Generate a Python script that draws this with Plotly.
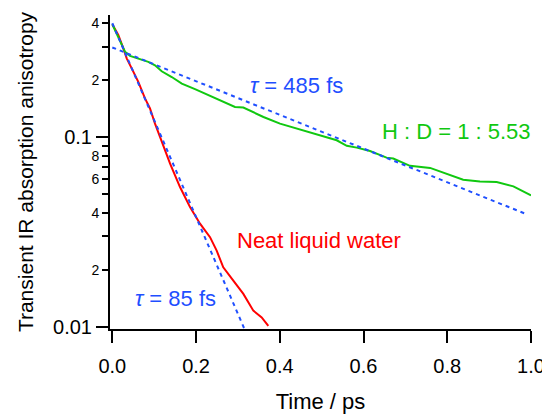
import plotly.graph_objects as go

# Data
t_water = [0.0, 0.0143, 0.0263, 0.0344, 0.0463, 0.0621, 0.0781, 0.090, 0.102, 0.114,
           0.138, 0.1617, 0.1856, 0.2095, 0.2334, 0.2493, 0.265, 0.289, 0.313, 0.3368,
           0.3568, 0.3726]
r_water = [0.395, 0.3465, 0.2946, 0.261, 0.231, 0.196, 0.1603, 0.1419, 0.118, 0.1004,
           0.0726, 0.0546, 0.0428, 0.0350, 0.0297, 0.0252, 0.0206, 0.0175, 0.0149, 0.01216,
           0.0112, 0.0101]

t_hd = [0.0, 0.0184, 0.0303, 0.0423, 0.0621, 0.086, 0.102, 0.118, 0.142, 0.166,
        0.1975, 0.229, 0.261, 0.293, 0.313, 0.361, 0.4005, 0.4404, 0.488, 0.536,
        0.560, 0.584, 0.6155, 0.655, 0.671, 0.711, 0.759, 0.799, 0.838, 0.878,
        0.918, 0.958, 1.0]
r_hd = [0.395, 0.326, 0.283, 0.269, 0.261, 0.250, 0.240, 0.223, 0.208, 0.192,
        0.1795, 0.1668, 0.155, 0.1446, 0.1436, 0.128, 0.118, 0.1111, 0.1038, 0.0964,
        0.0902, 0.0882, 0.0846, 0.0781, 0.0772, 0.0707, 0.0689, 0.0643, 0.0597, 0.0585,
        0.058, 0.0551, 0.0493]

# single-exponential fits (straight lines on the log axis): endpoints
t_fit85 = [0.0, 0.315]
r_fit85 = [0.40, 0.0098]
t_fit485 = [0.0, 0.99]
r_fit485 = [0.298, 0.0392]

x_ticks = [0.0, 0.2, 0.4, 0.6, 0.8, 1.0]
y_major_vals = [0.01, 0.1]
y_major_text = ["0.01", "0.1"]
y_minor_vals = [0.02, 0.03, 0.04, 0.05, 0.06, 0.07, 0.08, 0.09, 0.2, 0.3, 0.4]
y_minor_text = ["2", "", "4", "", "6", "", "8", "", "2", "", "4"]

RED = "#ff0000"
GREEN = "#10c810"
BLUE = "#1f4fff"
FONT = "Liberation Sans, Arial, sans-serif"

fig = go.Figure()
fig.add_trace(go.Scatter(x=t_water, y=r_water, mode="lines",
                         line=dict(color=RED, width=2), showlegend=False))
fig.add_trace(go.Scatter(x=t_hd, y=r_hd, mode="lines",
                         line=dict(color=GREEN, width=2), showlegend=False))
fig.add_trace(go.Scatter(x=t_fit85, y=r_fit85, mode="lines",
                         line=dict(color=BLUE, width=2, dash="4px,4px"), showlegend=False))
fig.add_trace(go.Scatter(x=t_fit485, y=r_fit485, mode="lines",
                         line=dict(color=BLUE, width=2, dash="4px,4px"), showlegend=False))
# dummy trace to activate overlay axis for minor labels
fig.add_trace(go.Scatter(x=[None], y=[None], yaxis="y2", showlegend=False, hoverinfo="skip"))

yrange = [-2.012, -0.3545]

# page has an 8px body margin, so the figure is 8px smaller than the window
fig.update_layout(
    width=542, height=406,
    margin=dict(l=102, r=19, t=7, b=85),
    paper_bgcolor="white", plot_bgcolor="white",
    font=dict(family=FONT, color="black"),
    xaxis=dict(range=[-0.0055, 1.0], tickvals=x_ticks, tickformat=".1f",
               ticks="outside", ticklen=12, tickwidth=2, tickcolor="black",
               showline=True, linewidth=2, linecolor="black",
               showgrid=False, zeroline=False, automargin=False,
               ticklabelstandoff=6,
               tickfont=dict(size=20),
               title=dict(text="Time / ps", font=dict(size=22), standoff=19)),
    yaxis=dict(type="log", range=yrange, tickvals=y_major_vals, ticktext=y_major_text,
               ticks="outside", ticklen=12, tickwidth=2, tickcolor="black",
               showline=True, linewidth=2, linecolor="black",
               showgrid=False, zeroline=False, automargin=False,
               tickfont=dict(size=20),
               title=dict(text="Transient IR absorption anisotropy", font=dict(size=21),
                          standoff=14)),
    yaxis2=dict(type="log", range=yrange, overlaying="y", side="left", anchor="x",
                tickvals=y_minor_vals, ticktext=y_minor_text,
                ticks="outside", ticklen=7, tickwidth=2, tickcolor="black",
                showline=False, showgrid=False, zeroline=False, automargin=False,
                tickfont=dict(size=14)),
)

ann = [
    dict(x=0.3247, y=-0.725, text="<i>τ</i> = 485 fs", color=BLUE),
    dict(x=0.640, y=-0.972, text="H : D = 1 : 5.53", color=GREEN),
    dict(x=0.293, y=-1.545, text="Neat liquid water", color=RED),
    dict(x=0.0495, y=-1.852, text="<i>τ</i> = 85 fs", color=BLUE),
]
for a in ann:
    fig.add_annotation(x=a["x"], y=a["y"], xref="x", yref="y", text=a["text"],
                       showarrow=False, xanchor="left", yanchor="middle",
                       font=dict(size=22, color=a["color"], family=FONT))

fig.write_html("out.html")
